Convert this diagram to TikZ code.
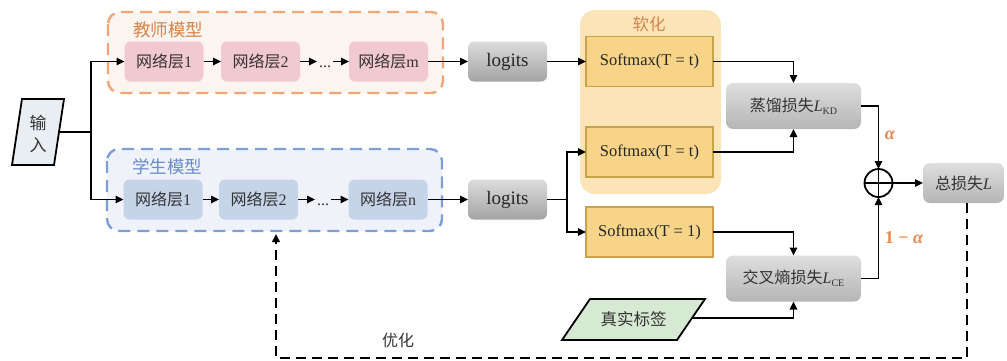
\documentclass[tikz,border=0pt]{standalone}
\usepackage{fontspec}
\setmainfont{Liberation Serif}
\newfontfamily\cjk{Noto Sans CJK SC}
\usetikzlibrary{arrows.meta}
\definecolor{txt}{HTML}{333333}
\definecolor{tfill}{HTML}{FCF4EF}
\definecolor{tdash}{HTML}{F0A678}
\definecolor{ttitle}{HTML}{D8834A}
\definecolor{tpink}{HTML}{F3C9D0}
\definecolor{sfill}{HTML}{EFF3F9}
\definecolor{sdash}{HTML}{7E9FD6}
\definecolor{stitle}{HTML}{6A8BCB}
\definecolor{sblue}{HTML}{C6D4EA}
\definecolor{softpanel}{HTML}{FBE5B8}
\definecolor{smfill}{HTML}{F7D488}
\definecolor{smborder}{HTML}{C9A24A}
\definecolor{truthfill}{HTML}{D6E9D2}
\definecolor{infill}{HTML}{E9EEF3}
\definecolor{orangelbl}{HTML}{E8884A}
\definecolor{logT}{HTML}{DCDCDC}
\definecolor{logB}{HTML}{A3A3A3}
\definecolor{lossT}{HTML}{DEDEDE}
\definecolor{lossB}{HTML}{B5B5B5}
\begin{document}
\begin{tikzpicture}[x=1pt,y=-1pt]
\tikzset{
 every node/.style={inner sep=0pt, outer sep=0pt},
 ln/.style={line width=1.6pt},
 arr/.style={line width=1.6pt, -{Triangle[length=8pt,width=7.5pt]}},
 container/.style={rounded corners=12pt, line width=2.4pt, dash pattern=on 12pt off 7pt},
 tlayer/.style={rectangle, rounded corners=6pt, fill=tpink, minimum width=79pt, minimum height=40pt, text=txt, font=\fontsize{16}{16}\selectfont},
 slayer/.style={tlayer, fill=sblue},
 dotsnode/.style={font=\fontsize{16}{16}\selectfont, text=txt, inner xsep=2pt},
 logitbox/.style={rectangle, rounded corners=6pt, top color=logT, bottom color=logB, minimum width=79pt, minimum height=40pt, text=black!85, font=\fontsize{19}{19}\selectfont},
 smbox/.style={rectangle, draw=smborder, line width=1.6pt, fill=smfill, minimum width=127pt, minimum height=50pt, text=black!85, font=\fontsize{16.5}{16.5}\selectfont},
 lossbox/.style={rectangle, rounded corners=7pt, top color=lossT, bottom color=lossB, minimum width=135pt, minimum height=46pt, text=txt, font=\fontsize{16}{16}\selectfont},
 titlelbl/.style={font=\fontsize{17.5}{17.5}\selectfont\cjk},
 greek/.style={text=orangelbl, font=\fontsize{18}{18}\selectfont\bfseries},
 fb/.style={line width=2.2pt, dash pattern=on 10pt off 6pt},
}
\useasboundingbox (0,0) rectangle (1007,360);

% containers
\draw[container, draw=tdash, fill=tfill] (108,12) rectangle (443,93);
\draw[container, draw=sdash, fill=sfill] (107,149) rectangle (442,231);
\fill[softpanel, rounded corners=15pt] (580,10) rectangle (721,194);

\node[titlelbl, text=ttitle] (ttl) at (168,30) {教师模型};
\node[titlelbl, text=stitle] (stl) at (167,167) {学生模型};
\node[font=\fontsize{16.5}{16.5}\selectfont\cjk, text=ttitle] (soft) at (649,24) {软化};

% input
\draw[line width=1.8pt, fill=infill] (22,99) -- (64,99) -- (54,165) -- (12,165) -- cycle;
\node[align=center, text=txt, font=\fontsize{17}{22}\selectfont\cjk] (inp) at (38,134) {输\\入};
\coordinate (inR) at (59,132);
\coordinate (j1) at (91,132);

% teacher layers
\node[tlayer] (T1) at (164,61.5) {{\cjk 网络层}1};
\node[tlayer] (T2) at (260.5,61.5) {{\cjk 网络层}2};
\node[dotsnode, anchor=base] (tdots) at (325,67) {...};
\node[tlayer] (Tm) at (388.5,61.5) {{\cjk 网络层}m};

% student layers
\node[slayer] (S1) at (163,199.5) {{\cjk 网络层}1};
\node[slayer] (S2) at (258.5,199.5) {{\cjk 网络层}2};
\node[dotsnode, anchor=base] (sdots) at (323,205) {...};
\node[slayer] (Sn) at (388,199.5) {{\cjk 网络层}n};

% logits
\node[logitbox] (LT) at (507.5,61.5) {logits};
\node[logitbox] (LS) at (507.5,199.5) {logits};
\coordinate (j2) at (567,199.5);

% softmax
\node[smbox] (SmT) at (649.5,61.5) {Softmax(T = t)};
\node[smbox] (SmS) at (649.5,152) {Softmax(T = t)};
\node[smbox] (Sm1) at (649.5,232) {Softmax(T = 1)};

% losses
\node[lossbox] (KD) at (793.5,106) {{\cjk 蒸馏损失}\textit{L}\raisebox{-3pt}{\fontsize{10}{10}\selectfont KD}};
\node[lossbox] (CE) at (793.5,278.5) {{\cjk 交叉熵损失}\textit{L}\raisebox{-3pt}{\fontsize{10}{10}\selectfont CE}};
\node[circle, draw, line width=1.8pt, minimum size=28pt] (plus) at (878.5,183) {};
\draw[line width=1.8pt] (plus.north) -- (plus.south) (plus.west) -- (plus.east);
\node[lossbox, minimum width=81pt, minimum height=40pt] (Tot) at (963.5,183) {{\cjk 总损失}\textit{L}};

% truth label
\draw[line width=1.8pt, fill=truthfill] (590,299) -- (705,299) -- (677,340) -- (562,340) -- cycle;
\node[font=\fontsize{16.5}{16.5}\selectfont\cjk, text=txt] (truth) at (633.5,319.5) {真实标签};
\coordinate (truthR) at (692,318);

% labels
\node[greek] (alpha) at (890,135) {\textit{α}};
\node[greek] (oma) at (904,238) {1 − \textit{α}};
\node[font=\fontsize{16}{16}\selectfont\cjk, text=txt] (opt) at (398,340) {优化};

% connectors
\draw[ln] (inR) -- (j1);
\draw[arr] (j1) |- (T1);
\draw[arr] (j1) |- (S1);
\draw[arr] (T1) -- (T2);
\draw[arr] (T2) -- (tdots.west |- T2);
\draw[arr] (tdots.east |- Tm) -- (Tm);
\draw[arr] (S1) -- (S2);
\draw[arr] (S2) -- (sdots.west |- S2);
\draw[arr] (sdots.east |- Sn) -- (Sn);
\draw[arr] (Tm) -- (LT);
\draw[arr] (Sn) -- (LS);
\draw[arr] (LT) -- (SmT);
\draw[ln] (LS) -- (j2);
\draw[arr] (j2) |- (SmS);
\draw[arr] (j2) |- (Sm1);
\draw[arr] (SmT) -| (KD);
\draw[arr] (SmS) -| (KD);
\draw[arr] (Sm1) -| (CE);
\draw[arr] (truthR) -| (CE);
\draw[arr] (KD) -| (plus);
\draw[arr] (CE) -| (plus);
\draw[arr] (plus) -- (Tot);

% feedback
\coordinate (tb) at (967,203);
\coordinate (c1) at (967,358);
\coordinate (c2) at (276,358);
\coordinate (sb) at (276,234);
\draw[fb, -{Triangle[length=8pt,width=7.5pt]}] (tb) -- (c1) -- (c2) -- (sb);
\end{tikzpicture}
\end{document}
